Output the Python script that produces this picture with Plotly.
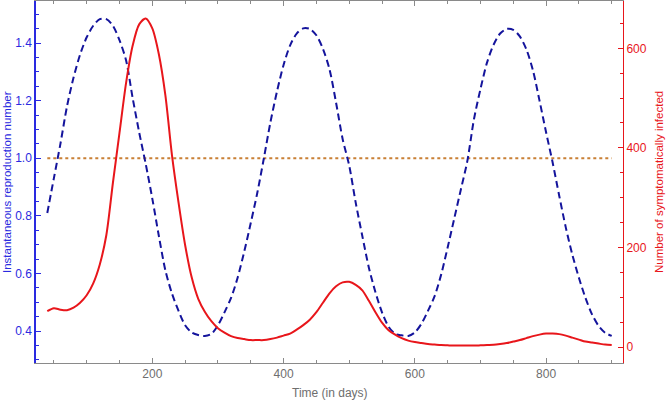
import plotly.graph_objects as go

days = list(range(40, 901, 10))

rt = [0.81, 0.93, 1.05, 1.18, 1.28, 1.36, 1.42, 1.46, 1.483, 1.483,
      1.46, 1.41, 1.34, 1.21, 1.09, 0.98, 0.86, 0.73, 0.61, 0.53,
      0.47, 0.42, 0.395, 0.386, 0.383, 0.39, 0.42, 0.465, 0.515, 0.585,
      0.675, 0.775, 0.88, 1.00, 1.125, 1.232, 1.324, 1.392, 1.433, 1.451,
      1.449, 1.427, 1.380, 1.309, 1.193, 1.067, 0.975, 0.845, 0.73, 0.62,
      0.535, 0.465, 0.415, 0.39, 0.385, 0.383, 0.395, 0.425, 0.47, 0.52,
      0.595, 0.69, 0.79, 0.89, 0.99, 1.134, 1.24, 1.332, 1.394, 1.433,
      1.449, 1.446, 1.423, 1.378, 1.305, 1.20, 1.09, 0.985, 0.87, 0.76,
      0.665, 0.585, 0.515, 0.458, 0.418, 0.394, 0.383]

infected = [72, 78, 75, 74, 79, 89, 104, 128, 166, 225,
            330, 430, 530, 605, 648, 660, 640, 588, 505, 385,
            290, 205, 140, 97, 71, 52, 38, 29, 22, 18,
            16, 14, 14, 14, 16, 19, 23, 27, 35, 44,
            55, 70, 89, 108, 122, 130, 131, 125, 114, 93,
            70, 49, 34, 25, 18, 13, 10, 8, 6, 5,
            4, 3.5, 3, 3, 3, 3, 3.5, 4, 4.5, 6,
            8, 11, 14, 18, 22, 25, 27, 27, 26, 23,
            19, 15, 11, 9, 7, 5, 4]

threshold_days = [40, 900]
threshold = [1.0, 1.0]

x_ticks = [200, 400, 600, 800]
left_ticks = [0.4, 0.6, 0.8, 1.0, 1.2, 1.4]
right_ticks = [0, 200, 400, 600]

BLUE_LINE = "#14149c"
BLUE_AXIS = "#2a2ae0"
RED = "#e8161b"
ORANGE = "#c98036"
GRAY = "#8a8a8a"
TEXT_GRAY = "#6e6e6e"
FONT = "Liberation Sans, Arial, sans-serif"

fig = go.Figure()
fig.add_trace(go.Scatter(x=threshold_days, y=threshold, mode="lines",
                         line=dict(color=ORANGE, width=2, dash="dot"),
                         yaxis="y", showlegend=False, hoverinfo="skip"))
fig.add_trace(go.Scatter(x=days, y=rt, mode="lines",
                         line=dict(color=BLUE_LINE, width=2, dash="7px,4px",
                                   shape="spline", smoothing=0.8),
                         yaxis="y", showlegend=False))
fig.add_trace(go.Scatter(x=days, y=infected, mode="lines",
                         line=dict(color=RED, width=2, shape="spline", smoothing=0.8),
                         yaxis="y2", showlegend=False))

fig.update_layout(
    width=666, height=400,
    margin=dict(l=36, r=43, t=1, b=37, autoexpand=False),
    paper_bgcolor="white", plot_bgcolor="white",
    font=dict(family=FONT, size=12),
    xaxis=dict(range=[22.8, 917.2], tickvals=x_ticks, ticks="inside", ticklen=5,
               tickcolor=GRAY, showline=True, linecolor=GRAY, linewidth=1,
               mirror="ticks", showgrid=False, zeroline=False, automargin=False,
               tickfont=dict(color=TEXT_GRAY, size=12),
               minor=dict(dtick=50, tick0=0, ticks="inside", ticklen=3, tickcolor=GRAY)),
    yaxis=dict(range=[0.289, 1.546], tickvals=left_ticks, tickformat=".1f",
               ticks="inside", ticklen=5, tickcolor=BLUE_AXIS,
               showline=True, linecolor=BLUE_AXIS, linewidth=1.5,
               showgrid=False, zeroline=False, automargin=False,
               tickfont=dict(color=BLUE_AXIS, size=12),
               minor=dict(dtick=0.05, tick0=0, ticks="inside", ticklen=3, tickcolor=BLUE_AXIS)),
    yaxis2=dict(range=[-32, 695], tickvals=right_ticks, overlaying="y", side="right",
                ticks="inside", ticklen=5, tickcolor=RED,
                showline=True, linecolor=RED, linewidth=1,
                showgrid=False, zeroline=False, automargin=False,
                tickfont=dict(color=RED, size=12),
                minor=dict(dtick=50, tick0=0, ticks="inside", ticklen=3, tickcolor=RED)),
    annotations=[
        dict(text="Time (in days)", xref="paper", yref="paper", x=0.5, y=-0.083,
             xanchor="center", yanchor="middle", showarrow=False,
             font=dict(color=TEXT_GRAY, size=12)),
        dict(text="Instantaneous reproduction number", xref="paper", yref="paper",
             x=-0.0494, y=0.5, textangle=-90, xanchor="center", yanchor="middle",
             showarrow=False, font=dict(color=BLUE_AXIS, size=11.5)),
        dict(text="Number of symptomatically infected", xref="paper", yref="paper",
             x=1.0613, y=0.5, textangle=-90, xanchor="center", yanchor="middle",
             showarrow=False, font=dict(color=RED, size=11.5)),
    ],
)

fig.write_html("out.html", config={"displayModeBar": False},
               post_script="document.body.style.margin='0px';document.body.style.overflow='hidden';")
